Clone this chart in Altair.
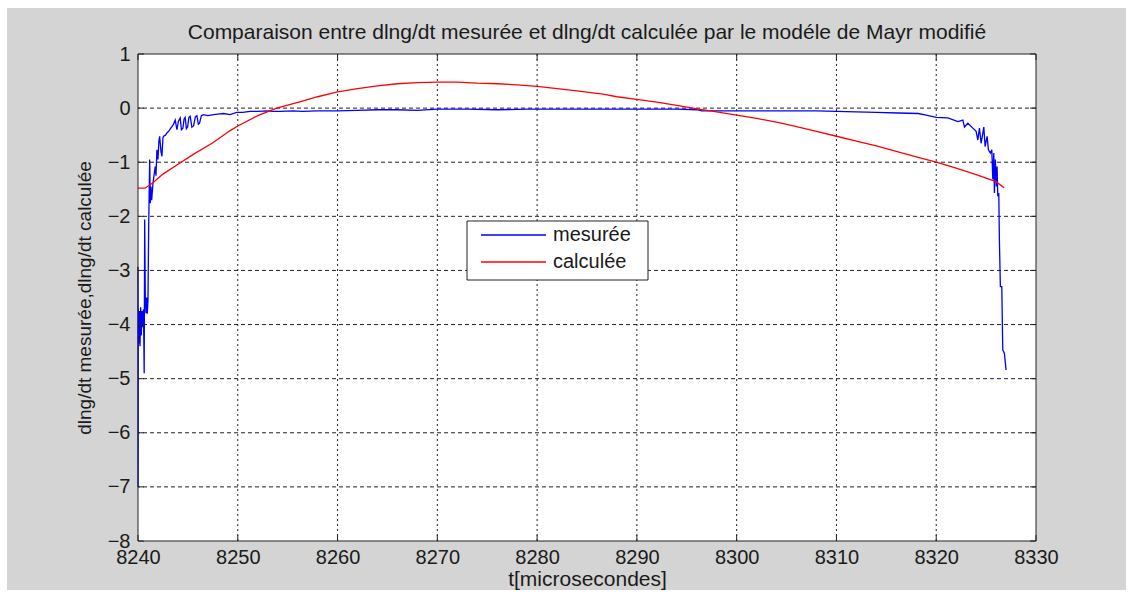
import altair as alt
import pandas as pd

# Measured dlng/dt (blue trace)
t_mes = [8240.00, 8240.01, 8240.03, 8240.07, 8240.13, 8240.20, 8240.27, 8240.33, 8240.40, 8240.47,
         8240.55, 8240.62, 8240.67, 8240.73, 8240.80, 8240.87, 8240.93, 8241.00, 8241.07, 8241.17,
         8241.23, 8241.30, 8241.37, 8241.50, 8241.60, 8241.73, 8241.80, 8241.90, 8242.00, 8242.10,
         8242.17, 8242.30, 8242.40, 8242.50, 8242.57, 8242.75, 8242.90, 8243.10, 8243.25, 8243.40,
         8243.55, 8243.73, 8243.90, 8244.05, 8244.23, 8244.35, 8244.50, 8244.62, 8244.73, 8244.85,
         8244.97, 8245.10, 8245.23, 8245.40, 8245.57, 8245.75, 8245.90, 8246.05, 8246.17, 8246.35,
         8246.57, 8247.00, 8247.57, 8248.00, 8248.57, 8249.23, 8249.90, 8250.50, 8251.23, 8252.00,
         8252.90, 8253.60, 8254.23, 8255.57, 8256.50, 8258.0, 8260.0, 8262.0, 8264.0, 8266.0,
         8268.0, 8270.0, 8273.0, 8276.0, 8279.0, 8282.0, 8285.0, 8288.0, 8291.0, 8294.0,
         8296.0, 8296.5, 8299.0, 8302.0, 8305.0, 8308.0, 8310.0, 8312.0, 8314.0, 8316.2,
         8318.2, 8319.0, 8320.0, 8321.17, 8322.17, 8322.67, 8322.83, 8323.17, 8323.67, 8324.00,
         8324.17, 8324.33, 8324.50, 8324.77, 8324.90, 8325.10, 8325.23, 8325.43, 8325.57, 8325.67,
         8325.77, 8325.83, 8325.93, 8326.03, 8326.10, 8326.17, 8326.27, 8326.33, 8326.43, 8326.57,
         8326.67, 8326.83, 8327.00]
v_mes = [-2.93, -7.00, -3.70, -4.35, -3.75, -4.40, -3.68, -4.20, -3.75, -4.05,
         -3.72, -4.90, -2.06, -3.48, -3.79, -3.50, -3.80, -3.55, -2.19, -0.95,
         -1.76, -1.45, -1.70, -1.39, -1.25, -1.08, -1.25, -0.77, -0.95, -0.60,
         -0.52, -0.80, -0.89, -0.55, -0.52, -0.50, -0.46, -0.42, -0.38, -0.34,
         -0.30, -0.22, -0.40, -0.24, -0.18, -0.40, -0.37, -0.20, -0.17, -0.38,
         -0.35, -0.17, -0.15, -0.35, -0.33, -0.16, -0.14, -0.30, -0.28, -0.14,
         -0.12, -0.14, -0.12, -0.11, -0.10, -0.12, -0.08, -0.08, -0.06, -0.06,
         -0.05, -0.06, -0.06, -0.05, -0.06, -0.05, -0.05, -0.04, -0.03, -0.03,
         -0.04, -0.02, -0.02, -0.03, -0.02, -0.02, -0.02, -0.02, -0.02, -0.02,
         -0.03, -0.05, -0.05, -0.05, -0.05, -0.05, -0.06, -0.07, -0.08, -0.09,
         -0.10, -0.13, -0.17, -0.18, -0.25, -0.22, -0.35, -0.28, -0.37, -0.43,
         -0.59, -0.37, -0.65, -0.35, -0.71, -0.52, -0.77, -0.83, -0.77, -1.32,
         -0.83, -1.57, -0.95, -1.45, -1.08, -1.63, -1.57, -2.43, -3.30, -3.30,
         -4.47, -4.53, -4.84]

# dlng/dt calculated with the modified Mayr model (red curve)
t_cal = [8240.0, 8240.7, 8241.5, 8242.5, 8243.9, 8245.5, 8247.5, 8249.2, 8250.0, 8252.0,
         8253.9, 8256.3, 8258.0, 8260.0, 8262.0, 8264.0, 8266.0, 8268.0, 8270.0, 8272.0,
         8274.0, 8276.0, 8278.0, 8280.0, 8282.0, 8284.0, 8286.6, 8288.0, 8290.0, 8292.0,
         8294.0, 8296.2, 8298.0, 8300.0, 8302.0, 8304.0, 8306.0, 8308.0, 8310.0, 8312.0,
         8314.0, 8316.0, 8318.0, 8320.0, 8322.0, 8324.0, 8326.0, 8326.8]
v_cal = [-1.48, -1.48, -1.38, -1.22, -1.05, -0.86, -0.64, -0.42, -0.33, -0.14,
         0.00, 0.12, 0.21, 0.30, 0.36, 0.41, 0.45, 0.47, 0.48, 0.48,
         0.46, 0.45, 0.43, 0.40, 0.36, 0.32, 0.26, 0.21, 0.16, 0.11,
         0.05, -0.02, -0.07, -0.13, -0.19, -0.26, -0.34, -0.43, -0.52, -0.61,
         -0.70, -0.80, -0.90, -1.00, -1.11, -1.23, -1.36, -1.47]

series = ["mesurée", "calculée"]
colors = ["#0000ff", "#ff0000"]
x_ticks = list(range(8240, 8331, 10))
y_ticks = list(range(-8, 2))
title_text = "Comparaison entre dlng/dt mesurée et dlng/dt calculée par le modéle de Mayr modifié"

FONT = "Liberation Sans"
INK = "#1a1a1a"
W, H = 898, 487
X_DOM = [8240, 8330]
Y_DOM = [-8, 1]

curves = pd.concat([
    pd.DataFrame({"t": t_mes, "v": v_mes, "serie": series[0], "i": range(len(t_mes))}),
    pd.DataFrame({"t": t_cal, "v": v_cal, "serie": series[1], "i": range(len(t_cal))}),
])
xg = pd.DataFrame({"t": x_ticks})
yg = pd.DataFrame({"v": y_ticks})
one = pd.DataFrame({"k": [0]})
legend_rows = pd.DataFrame({"serie": series, "row": [0, 1]})

xs = alt.Scale(domain=X_DOM, nice=False, zero=False)
ys = alt.Scale(domain=Y_DOM, nice=False, zero=False)
cs = alt.Scale(domain=series, range=colors)

# grey figure panel and white axes area
panel = alt.Chart(one).mark_rect(fill="#d4d4d4").encode(
    x=alt.value(-131), x2=alt.value(988), y=alt.value(-46), y2=alt.value(536))
axes_bg = alt.Chart(one).mark_rect(fill="white").encode(
    x=alt.value(0), x2=alt.value(W), y=alt.value(0), y2=alt.value(H))

title = alt.Chart(one).mark_text(
    text=title_text, font=FONT, fontSize=21, color=INK,
    align="center", baseline="alphabetic",
).encode(x=alt.value(W / 2), y=alt.value(-15))

# dotted grid
vgrid = alt.Chart(xg).transform_filter(
    (alt.datum.t > X_DOM[0]) & (alt.datum.t < X_DOM[1])
).mark_rule(color="#222", strokeWidth=1, strokeDash=[2, 3]).encode(
    x=alt.X("t:Q", scale=xs,
            axis=alt.Axis(values=x_ticks, format="d", title="t[microsecondes]",
                          grid=False, ticks=False, domain=False, labelFlush=False,
                          labelPadding=6, titlePadding=1, titleFontSize=21, zindex=2)))
hgrid = alt.Chart(yg).transform_filter(
    (alt.datum.v > Y_DOM[0]) & (alt.datum.v < Y_DOM[1])
).mark_rule(color="#222", strokeWidth=1, strokeDash=[4, 3]).encode(
    y=alt.Y("v:Q", scale=ys,
            axis=alt.Axis(values=y_ticks, format="d",
                          title="dlng/dt mesurée,dlng/dt calculée",
                          grid=False, ticks=False, domain=False, labelFlush=False,
                          labelPadding=8, titlePadding=13, titleFontSize=19, zindex=2)))

# inward tick marks on all four sides
tick_l = alt.Chart(yg).mark_rule(color="#222").encode(
    y=alt.Y("v:Q", scale=ys), x=alt.value(0), x2=alt.value(6))
tick_r = alt.Chart(yg).mark_rule(color="#222").encode(
    y=alt.Y("v:Q", scale=ys), x=alt.value(W - 6), x2=alt.value(W))
tick_b = alt.Chart(xg).mark_rule(color="#222").encode(
    x=alt.X("t:Q", scale=xs), y=alt.value(H - 6), y2=alt.value(H))
tick_t = alt.Chart(xg).mark_rule(color="#222").encode(
    x=alt.X("t:Q", scale=xs), y=alt.value(0), y2=alt.value(6))

lines = alt.Chart(curves).mark_line(strokeWidth=1.3).encode(
    x=alt.X("t:Q", scale=xs),
    y=alt.Y("v:Q", scale=ys),
    color=alt.Color("serie:N", scale=cs, legend=None),
    order="i:Q",
    detail="serie:N",
)

frame = alt.Chart(one).mark_rect(fill=None, stroke="#222", strokeWidth=1).encode(
    x=alt.value(0), x2=alt.value(W), y=alt.value(0), y2=alt.value(H))

main = alt.layer(panel, axes_bg, title, vgrid, hgrid, lines,
                 tick_l, tick_r, tick_b, tick_t, frame)

# legend box drawn inside the axes
ls = alt.Scale(domain=[0, 1], range=[181, 208])
leg_box = alt.Chart(one).mark_rect(fill="white", stroke="#222", strokeWidth=1).encode(
    x=alt.value(329), x2=alt.value(510), y=alt.value(167), y2=alt.value(226))
leg_lines = alt.Chart(legend_rows).mark_rule(strokeWidth=1.5).encode(
    x=alt.value(343), x2=alt.value(408),
    y=alt.Y("row:Q", scale=ls, axis=None),
    color=alt.Color("serie:N", scale=cs, legend=None))
leg_text = alt.Chart(legend_rows).mark_text(
    align="left", baseline="middle", font=FONT, fontSize=20, color=INK
).encode(
    x=alt.value(415),
    y=alt.Y("row:Q", scale=ls, axis=None),
    text="serie:N")
legend = alt.layer(leg_box, leg_lines, leg_text)

chart = alt.layer(main, legend).resolve_scale(y="independent").properties(
    width=W, height=H,
    autosize=alt.AutoSizeParams(type="none"),
    padding={"left": 138, "top": 54, "right": 1133 - 138 - W, "bottom": 597 - 54 - H},
    background="white",
).configure_view(stroke=None, fill="white").configure_axis(
    labelFont=FONT, labelFontSize=20, labelColor=INK,
    titleFont=FONT, titleFontWeight="normal", titleColor=INK,
    labelOverlap=False,
)

chart.save("out.html", embed_options={"renderer": "svg", "actions": False})
